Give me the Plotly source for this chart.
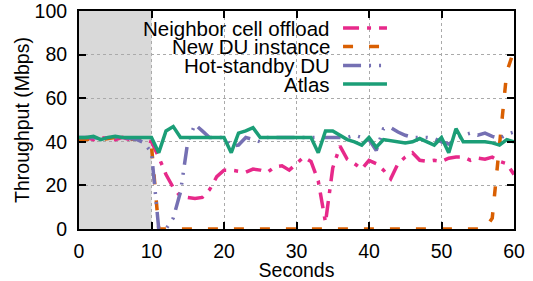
import plotly.graph_objects as go

seconds = list(range(0, 61))

neighbor_offload = [41.5, 42, 41, 42, 41.5, 41, 42, 41, 41.5, 41, 40,
                    33, 25, 19, 15, 14.5, 14, 14.5, 18, 24, 27,
                    27, 26.5, 26, 27.5, 27, 26, 28.5, 29, 27, 30,
                    33, 31, 22, 3, 28, 38, 32, 30, 27.5, 31.5,
                    30, 27, 23, 30, 33, 35, 31.5, 31, 31.5, 31,
                    32.5, 33, 33, 31.5, 32.5, 32, 33, 31, 30, 25]

new_du = [41, 41, 41.5, 41, 41.5, 42, 41.5, 41, 41.5, 41, 38,
          0, 0, 0, 0, 0, 0, 0, 0, 0, 0,
          0, 0, 0, 0, 0, 0, 0, 0, 0, 0,
          0, 0, 0, 0, 0, 0, 0, 0, 0, 0,
          0, 0, 0, 0, 0, 0, 0, 0, 0, 0,
          0, 0, 0, 0, 0, 0, 5, 40, 72, 82]

hot_standby = [42, 42, 42, 41.5, 42, 42, 42, 41.5, 41, 39.5, 35,
               0, 0, 5, 17, 40, 48, 45, 42, 42, 42,
               38, 38.5, 42, 41, 40, 42, 42, 42, 42, 42,
               42, 42, 42, 42, 42, 42, 42, 43, 42, 41,
               36, 46, 46.5, 44.5, 43, 42, 42, 42, 41.5, 40,
               39, 41, 43, 44, 43, 44, 42.5, 41.5, 43.5, 44.5]

atlas = [42, 42, 42.5, 41, 42, 42.5, 42, 42, 42, 42, 42,
         35, 45, 47, 42, 42, 42, 42, 42, 42, 42,
         35, 44, 45, 46.5, 42, 42, 42, 42, 42, 42,
         42, 42, 35, 45, 45, 43, 41, 40, 38.5, 42,
         37.5, 41, 40.5, 40, 39.5, 40, 41.5, 40, 38.5, 42,
         35, 46, 40, 40, 40, 40, 39.5, 38.5, 41, 40]

series_names = ["Neighbor cell offload", "New DU instance", "Hot-standby DU", "Atlas"]
series_values = [neighbor_offload, new_du, hot_standby, atlas]
series_colors = ["#e7298a", "#d95f02", "#7570b3", "#1b9e77"]
series_dashes = ["16px,8px,4px,8px", "10px,16px", "18px,8px,2px,8px,2px,8px", "solid"]

x_ticks = [0, 10, 20, 30, 40, 50, 60]
y_ticks = [0, 20, 40, 60, 80, 100]
shaded_span = [0, 10]

FONT = "Liberation Sans, Arial, sans-serif"
FS = 19.5
LEG_FS = 20.5

fig = go.Figure()
for name, vals, col, dash in zip(series_names, series_values, series_colors, series_dashes):
    fig.add_trace(go.Scatter(x=seconds, y=vals, mode="lines", name=name,
                             line=dict(color=col, width=3.5, dash=dash),
                             showlegend=False, hoverinfo="skip"))

# shaded warm-up region
fig.add_shape(type="rect", xref="x", yref="y", x0=shaded_span[0], x1=shaded_span[1],
              y0=0, y1=100, fillcolor="#d9d9d9", line=dict(width=0), layer="below")

# manual legend (text right-aligned, sample to the right)
leg_x_text = 0.5816
leg_x0, leg_x1 = 0.607, 0.708
leg_rows = [0.922, 0.837, 0.750, 0.665]
for name, col, dash, ly in zip(series_names, series_colors, series_dashes, leg_rows):
    fig.add_annotation(x=leg_x_text, y=ly, xref="paper", yref="paper", text=name,
                       showarrow=False, xanchor="right", yanchor="middle",
                       font=dict(family=FONT, size=LEG_FS, color="black"))
    fig.add_shape(type="line", xref="paper", yref="paper", x0=leg_x0, x1=leg_x1,
                  y0=ly, y1=ly, line=dict(color=col, width=3.5, dash=dash))

axis_common = dict(showline=True, linewidth=2, linecolor="black", mirror="ticks",
                   ticks="inside", ticklen=7, tickwidth=1.5, tickcolor="black",
                   showgrid=True, gridcolor="#aaaaaa", gridwidth=1, griddash="dot",
                   zeroline=False, automargin=False, ticklabeloverflow="allow",
                   tickfont=dict(family=FONT, size=FS, color="black"))

fig.update_xaxes(range=[0, 60], tickvals=x_ticks, ticklabelstandoff=4,
                 title=dict(text="Seconds", font=dict(family=FONT, size=FS, color="black"),
                            standoff=4),
                 **axis_common)
fig.update_yaxes(range=[0, 100], tickvals=y_ticks, ticklabelstandoff=6,
                 title=dict(text="Throughput (Mbps)", font=dict(family=FONT, size=FS, color="black"),
                            standoff=0),
                 **axis_common)

fig.update_layout(width=533, height=281, margin=dict(l=79, r=19, t=11, b=52),
                  plot_bgcolor="white", paper_bgcolor="white",
                  font=dict(family=FONT, size=FS, color="black"))

fig.write_html("out.html", config={"displayModeBar": False},
               post_script="document.body.style.margin='0px';")
